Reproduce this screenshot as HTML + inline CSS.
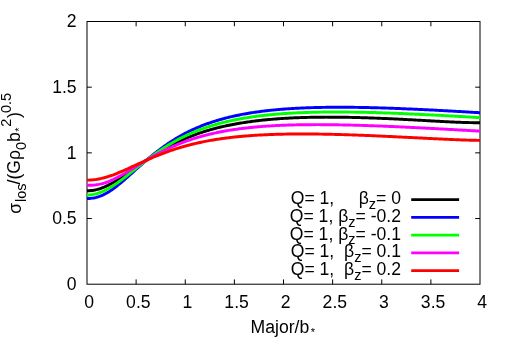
<!DOCTYPE html>
<html><head><meta charset="utf-8"><style>
html,body{margin:0;padding:0;background:#fff;}
svg{display:block;will-change:transform}
text{font-family:"Liberation Sans",sans-serif;font-size:17.6px;fill:#000}
</style></head><body>
<svg width="512" height="359" viewBox="0 0 512 359">
<rect width="512" height="359" fill="#fff"/>
<rect x="87.0" y="21.5" width="393.0" height="262.7" fill="none" stroke="#000" stroke-width="1"/>
<path d="M136.12,284.2 V279.4 M136.12,21.5 V26.3" stroke="#000" stroke-width="1"/>
<path d="M185.25,284.2 V279.4 M185.25,21.5 V26.3" stroke="#000" stroke-width="1"/>
<path d="M234.38,284.2 V279.4 M234.38,21.5 V26.3" stroke="#000" stroke-width="1"/>
<path d="M283.50,284.2 V279.4 M283.50,21.5 V26.3" stroke="#000" stroke-width="1"/>
<path d="M332.62,284.2 V279.4 M332.62,21.5 V26.3" stroke="#000" stroke-width="1"/>
<path d="M381.75,284.2 V279.4 M381.75,21.5 V26.3" stroke="#000" stroke-width="1"/>
<path d="M430.88,284.2 V279.4 M430.88,21.5 V26.3" stroke="#000" stroke-width="1"/>
<path d="M87.0,218.52 H91.8 M480.0,218.52 H475.2" stroke="#000" stroke-width="1"/>
<path d="M87.0,152.85 H91.8 M480.0,152.85 H475.2" stroke="#000" stroke-width="1"/>
<path d="M87.0,87.18 H91.8 M480.0,87.18 H475.2" stroke="#000" stroke-width="1"/>
<text transform="translate(89.20,307.65) scale(1,1.05)" text-anchor="middle" xml:space="preserve">0</text>
<text transform="translate(138.32,307.65) scale(1,1.05)" text-anchor="middle" xml:space="preserve">0.5</text>
<text transform="translate(187.45,307.65) scale(1,1.05)" text-anchor="middle" xml:space="preserve">1</text>
<text transform="translate(236.57,307.65) scale(1,1.05)" text-anchor="middle" xml:space="preserve">1.5</text>
<text transform="translate(285.70,307.65) scale(1,1.05)" text-anchor="middle" xml:space="preserve">2</text>
<text transform="translate(334.82,307.65) scale(1,1.05)" text-anchor="middle" xml:space="preserve">2.5</text>
<text transform="translate(383.95,307.65) scale(1,1.05)" text-anchor="middle" xml:space="preserve">3</text>
<text transform="translate(433.07,307.65) scale(1,1.05)" text-anchor="middle" xml:space="preserve">3.5</text>
<text transform="translate(482.20,307.65) scale(1,1.05)" text-anchor="middle" xml:space="preserve">4</text>
<text transform="translate(76.60,290.10) scale(1,1.05)" text-anchor="end" xml:space="preserve">0</text>
<text transform="translate(76.60,224.42) scale(1,1.05)" text-anchor="end" xml:space="preserve">0.5</text>
<text transform="translate(76.60,158.75) scale(1,1.05)" text-anchor="end" xml:space="preserve">1</text>
<text transform="translate(76.60,93.08) scale(1,1.05)" text-anchor="end" xml:space="preserve">1.5</text>
<text transform="translate(76.60,27.40) scale(1,1.05)" text-anchor="end" xml:space="preserve">2</text>
<text transform="translate(250.60,332.90) scale(1,1.05)" text-anchor="start" xml:space="preserve"><tspan>Major/b</tspan><tspan dy="2.86" dx="1.5" font-size="11">*</tspan></text>
<text transform="translate(19.90,213.80) rotate(-90) scale(1,1.05)" text-anchor="start" xml:space="preserve"><tspan dy="0.95">σ</tspan><tspan dy="4.48" dx="1.0" font-size="14.5">los</tspan><tspan dy="-5.43" dx="-1.0">/(Gρ</tspan><tspan dy="5.43" font-size="14.5">0</tspan><tspan dy="-5.43">b</tspan><tspan dy="2.76" dx="0.5" font-size="11">*</tspan><tspan dy="-11.33" dx="0.6" font-size="14.5">2</tspan><tspan dy="8.57" dx="0.6">)</tspan><tspan dy="-8.57" dx="-0.8" font-size="14.5">0.5</tspan></text>
<path d="M87.00,190.78 L88.31,190.75 L89.63,190.69 L90.94,190.57 L92.26,190.42 L93.57,190.22 L94.89,189.97 L96.20,189.68 L97.52,189.35 L98.83,188.98 L100.14,188.57 L101.46,188.12 L102.77,187.63 L104.09,187.11 L105.40,186.55 L106.72,185.96 L108.03,185.34 L109.34,184.68 L110.66,184.00 L111.97,183.29 L113.29,182.56 L114.60,181.80 L115.92,181.02 L117.23,180.22 L118.55,179.40 L119.86,178.56 L121.17,177.71 L122.49,176.84 L123.80,175.96 L125.12,175.07 L126.43,174.18 L127.75,173.27 L129.06,172.36 L130.37,171.44 L131.69,170.52 L133.00,169.60 L134.32,168.67 L135.63,167.75 L136.95,166.82 L138.26,165.90 L139.58,164.98 L140.89,164.07 L142.20,163.15 L143.52,162.25 L144.83,161.35 L146.15,160.46 L147.46,159.57 L148.78,158.69 L150.09,157.82 L151.40,156.96 L152.72,156.11 L154.03,155.27 L155.35,154.44 L156.66,153.62 L157.98,152.81 L159.29,152.01 L160.61,151.22 L161.92,150.44 L163.23,149.68 L164.55,148.93 L165.86,148.19 L167.18,147.46 L168.49,146.74 L169.81,146.03 L171.12,145.34 L172.43,144.66 L173.75,143.99 L175.06,143.33 L176.38,142.68 L177.69,142.05 L179.01,141.42 L180.32,140.81 L181.64,140.21 L182.95,139.63 L184.26,139.05 L185.58,138.48 L186.89,137.93 L188.21,137.39 L189.52,136.86 L190.84,136.33 L192.15,135.82 L193.46,135.32 L194.78,134.83 L196.09,134.35 L197.41,133.88 L198.72,133.42 L200.04,132.97 L201.35,132.53 L202.67,132.10 L203.98,131.68 L205.29,131.27 L206.61,130.86 L207.92,130.47 L209.24,130.08 L210.55,129.70 L211.87,129.33 L213.18,128.97 L214.49,128.62 L215.81,128.27 L217.12,127.94 L218.44,127.61 L219.75,127.29 L221.07,126.97 L222.38,126.66 L223.70,126.36 L225.01,126.07 L226.32,125.78 L227.64,125.50 L228.95,125.23 L230.27,124.96 L231.58,124.70 L232.90,124.45 L234.21,124.20 L235.53,123.96 L236.84,123.72 L238.15,123.49 L239.47,123.27 L240.78,123.05 L242.10,122.84 L243.41,122.63 L244.73,122.43 L246.04,122.23 L247.35,122.04 L248.67,121.85 L249.98,121.67 L251.30,121.49 L252.61,121.32 L253.93,121.15 L255.24,120.98 L256.56,120.82 L257.87,120.67 L259.18,120.52 L260.50,120.37 L261.81,120.23 L263.13,120.09 L264.44,119.96 L265.76,119.83 L267.07,119.70 L268.38,119.58 L269.70,119.46 L271.01,119.35 L272.33,119.23 L273.64,119.13 L274.96,119.02 L276.27,118.92 L277.59,118.82 L278.90,118.73 L280.21,118.64 L281.53,118.55 L282.84,118.47 L284.16,118.38 L285.47,118.31 L286.79,118.23 L288.10,118.16 L289.41,118.09 L290.73,118.02 L292.04,117.96 L293.36,117.90 L294.67,117.84 L295.99,117.78 L297.30,117.73 L298.62,117.68 L299.93,117.63 L301.24,117.59 L302.56,117.54 L303.87,117.50 L305.19,117.46 L306.50,117.43 L307.82,117.39 L309.13,117.36 L310.44,117.33 L311.76,117.31 L313.07,117.28 L314.39,117.26 L315.70,117.24 L317.02,117.22 L318.33,117.21 L319.65,117.19 L320.96,117.18 L322.27,117.17 L323.59,117.16 L324.90,117.16 L326.22,117.15 L327.53,117.15 L328.85,117.15 L330.16,117.15 L331.47,117.15 L332.79,117.16 L334.10,117.16 L335.42,117.17 L336.73,117.18 L338.05,117.19 L339.36,117.21 L340.68,117.22 L341.99,117.24 L343.30,117.26 L344.62,117.28 L345.93,117.30 L347.25,117.32 L348.56,117.34 L349.88,117.37 L351.19,117.39 L352.51,117.42 L353.82,117.45 L355.13,117.48 L356.45,117.52 L357.76,117.55 L359.08,117.58 L360.39,117.62 L361.71,117.66 L363.02,117.70 L364.33,117.74 L365.65,117.78 L366.96,117.82 L368.28,117.87 L369.59,117.91 L370.91,117.96 L372.22,118.00 L373.54,118.05 L374.85,118.10 L376.16,118.15 L377.48,118.20 L378.79,118.25 L380.11,118.31 L381.42,118.36 L382.74,118.42 L384.05,118.47 L385.36,118.53 L386.68,118.59 L387.99,118.65 L389.31,118.71 L390.62,118.77 L391.94,118.83 L393.25,118.89 L394.57,118.95 L395.88,119.02 L397.19,119.08 L398.51,119.15 L399.82,119.21 L401.14,119.28 L402.45,119.34 L403.77,119.41 L405.08,119.48 L406.39,119.55 L407.71,119.62 L409.02,119.69 L410.34,119.76 L411.65,119.83 L412.97,119.90 L414.28,119.97 L415.60,120.04 L416.91,120.11 L418.22,120.18 L419.54,120.26 L420.85,120.33 L422.17,120.40 L423.48,120.47 L424.80,120.55 L426.11,120.62 L427.42,120.69 L428.74,120.76 L430.05,120.84 L431.37,120.91 L432.68,120.98 L434.00,121.05 L435.31,121.12 L436.63,121.20 L437.94,121.27 L439.25,121.34 L440.57,121.41 L441.88,121.48 L443.20,121.54 L444.51,121.61 L445.83,121.68 L447.14,121.74 L448.45,121.81 L449.77,121.87 L451.08,121.93 L452.40,121.99 L453.71,122.05 L455.03,122.11 L456.34,122.17 L457.66,122.22 L458.97,122.27 L460.28,122.32 L461.60,122.37 L462.91,122.42 L464.23,122.46 L465.54,122.50 L466.86,122.54 L468.17,122.57 L469.48,122.60 L470.80,122.63 L472.11,122.65 L473.43,122.67 L474.74,122.68 L476.06,122.69 L477.37,122.70 L478.69,122.70 L480.00,122.69" fill="none" stroke="#000" stroke-width="2.95" stroke-linejoin="round"/>
<path d="M87.00,198.51 L88.31,198.49 L89.63,198.43 L90.94,198.32 L92.26,198.16 L93.57,197.96 L94.89,197.70 L96.20,197.40 L97.52,197.04 L98.83,196.62 L100.14,196.16 L101.46,195.63 L102.77,195.06 L104.09,194.43 L105.40,193.75 L106.72,193.03 L108.03,192.25 L109.34,191.44 L110.66,190.58 L111.97,189.68 L113.29,188.75 L114.60,187.78 L115.92,186.78 L117.23,185.76 L118.55,184.71 L119.86,183.63 L121.17,182.53 L122.49,181.42 L123.80,180.29 L125.12,179.15 L126.43,177.99 L127.75,176.82 L129.06,175.65 L130.37,174.47 L131.69,173.29 L133.00,172.11 L134.32,170.92 L135.63,169.74 L136.95,168.56 L138.26,167.38 L139.58,166.21 L140.89,165.04 L142.20,163.88 L143.52,162.73 L144.83,161.59 L146.15,160.46 L147.46,159.34 L148.78,158.23 L150.09,157.13 L151.40,156.05 L152.72,154.98 L154.03,153.92 L155.35,152.88 L156.66,151.85 L157.98,150.84 L159.29,149.84 L160.61,148.86 L161.92,147.89 L163.23,146.94 L164.55,146.01 L165.86,145.09 L167.18,144.18 L168.49,143.29 L169.81,142.42 L171.12,141.57 L172.43,140.73 L173.75,139.90 L175.06,139.10 L176.38,138.30 L177.69,137.53 L179.01,136.76 L180.32,136.02 L181.64,135.28 L182.95,134.57 L184.26,133.86 L185.58,133.18 L186.89,132.50 L188.21,131.84 L189.52,131.20 L190.84,130.57 L192.15,129.95 L193.46,129.34 L194.78,128.75 L196.09,128.17 L197.41,127.60 L198.72,127.05 L200.04,126.51 L201.35,125.98 L202.67,125.46 L203.98,124.95 L205.29,124.46 L206.61,123.97 L207.92,123.50 L209.24,123.04 L210.55,122.59 L211.87,122.15 L213.18,121.71 L214.49,121.29 L215.81,120.88 L217.12,120.48 L218.44,120.09 L219.75,119.70 L221.07,119.33 L222.38,118.96 L223.70,118.60 L225.01,118.26 L226.32,117.91 L227.64,117.58 L228.95,117.26 L230.27,116.94 L231.58,116.63 L232.90,116.33 L234.21,116.04 L235.53,115.75 L236.84,115.47 L238.15,115.20 L239.47,114.93 L240.78,114.67 L242.10,114.42 L243.41,114.17 L244.73,113.93 L246.04,113.70 L247.35,113.47 L248.67,113.25 L249.98,113.03 L251.30,112.82 L252.61,112.61 L253.93,112.41 L255.24,112.22 L256.56,112.03 L257.87,111.84 L259.18,111.67 L260.50,111.49 L261.81,111.32 L263.13,111.16 L264.44,110.99 L265.76,110.84 L267.07,110.69 L268.38,110.54 L269.70,110.40 L271.01,110.26 L272.33,110.12 L273.64,109.99 L274.96,109.87 L276.27,109.74 L277.59,109.62 L278.90,109.51 L280.21,109.40 L281.53,109.29 L282.84,109.18 L284.16,109.08 L285.47,108.99 L286.79,108.89 L288.10,108.80 L289.41,108.71 L290.73,108.63 L292.04,108.55 L293.36,108.47 L294.67,108.39 L295.99,108.32 L297.30,108.25 L298.62,108.18 L299.93,108.12 L301.24,108.06 L302.56,108.00 L303.87,107.94 L305.19,107.89 L306.50,107.83 L307.82,107.79 L309.13,107.74 L310.44,107.70 L311.76,107.65 L313.07,107.61 L314.39,107.58 L315.70,107.54 L317.02,107.51 L318.33,107.48 L319.65,107.45 L320.96,107.42 L322.27,107.40 L323.59,107.38 L324.90,107.36 L326.22,107.34 L327.53,107.32 L328.85,107.31 L330.16,107.29 L331.47,107.28 L332.79,107.27 L334.10,107.27 L335.42,107.26 L336.73,107.26 L338.05,107.25 L339.36,107.25 L340.68,107.25 L341.99,107.26 L343.30,107.26 L344.62,107.26 L345.93,107.27 L347.25,107.28 L348.56,107.29 L349.88,107.30 L351.19,107.31 L352.51,107.33 L353.82,107.34 L355.13,107.36 L356.45,107.38 L357.76,107.40 L359.08,107.42 L360.39,107.44 L361.71,107.46 L363.02,107.49 L364.33,107.51 L365.65,107.54 L366.96,107.57 L368.28,107.59 L369.59,107.62 L370.91,107.66 L372.22,107.69 L373.54,107.72 L374.85,107.76 L376.16,107.79 L377.48,107.83 L378.79,107.86 L380.11,107.90 L381.42,107.94 L382.74,107.98 L384.05,108.02 L385.36,108.07 L386.68,108.11 L387.99,108.15 L389.31,108.20 L390.62,108.24 L391.94,108.29 L393.25,108.34 L394.57,108.38 L395.88,108.43 L397.19,108.48 L398.51,108.53 L399.82,108.58 L401.14,108.64 L402.45,108.69 L403.77,108.74 L405.08,108.80 L406.39,108.85 L407.71,108.91 L409.02,108.96 L410.34,109.02 L411.65,109.08 L412.97,109.13 L414.28,109.19 L415.60,109.25 L416.91,109.31 L418.22,109.37 L419.54,109.43 L420.85,109.50 L422.17,109.56 L423.48,109.62 L424.80,109.68 L426.11,109.75 L427.42,109.81 L428.74,109.88 L430.05,109.94 L431.37,110.01 L432.68,110.08 L434.00,110.14 L435.31,110.21 L436.63,110.28 L437.94,110.35 L439.25,110.42 L440.57,110.49 L441.88,110.56 L443.20,110.63 L444.51,110.70 L445.83,110.77 L447.14,110.84 L448.45,110.91 L449.77,110.99 L451.08,111.06 L452.40,111.13 L453.71,111.21 L455.03,111.28 L456.34,111.35 L457.66,111.43 L458.97,111.50 L460.28,111.58 L461.60,111.65 L462.91,111.73 L464.23,111.81 L465.54,111.88 L466.86,111.96 L468.17,112.04 L469.48,112.12 L470.80,112.19 L472.11,112.27 L473.43,112.35 L474.74,112.43 L476.06,112.51 L477.37,112.59 L478.69,112.67 L480.00,112.75" fill="none" stroke="#0000ff" stroke-width="2.95" stroke-linejoin="round"/>
<path d="M87.00,195.04 L88.31,195.01 L89.63,194.93 L90.94,194.81 L92.26,194.63 L93.57,194.39 L94.89,194.11 L96.20,193.78 L97.52,193.40 L98.83,192.98 L100.14,192.51 L101.46,191.99 L102.77,191.44 L104.09,190.84 L105.40,190.20 L106.72,189.52 L108.03,188.80 L109.34,188.06 L110.66,187.28 L111.97,186.46 L113.29,185.62 L114.60,184.76 L115.92,183.87 L117.23,182.95 L118.55,182.02 L119.86,181.06 L121.17,180.09 L122.49,179.10 L123.80,178.10 L125.12,177.09 L126.43,176.07 L127.75,175.04 L129.06,174.00 L130.37,172.95 L131.69,171.91 L133.00,170.86 L134.32,169.81 L135.63,168.76 L136.95,167.71 L138.26,166.66 L139.58,165.62 L140.89,164.59 L142.20,163.55 L143.52,162.53 L144.83,161.51 L146.15,160.50 L147.46,159.50 L148.78,158.51 L150.09,157.53 L151.40,156.55 L152.72,155.59 L154.03,154.65 L155.35,153.71 L156.66,152.78 L157.98,151.87 L159.29,150.97 L160.61,150.09 L161.92,149.21 L163.23,148.35 L164.55,147.51 L165.86,146.68 L167.18,145.86 L168.49,145.05 L169.81,144.26 L171.12,143.48 L172.43,142.72 L173.75,141.97 L175.06,141.23 L176.38,140.51 L177.69,139.80 L179.01,139.10 L180.32,138.42 L181.64,137.75 L182.95,137.10 L184.26,136.45 L185.58,135.82 L186.89,135.21 L188.21,134.60 L189.52,134.01 L190.84,133.43 L192.15,132.86 L193.46,132.30 L194.78,131.76 L196.09,131.23 L197.41,130.70 L198.72,130.19 L200.04,129.69 L201.35,129.20 L202.67,128.73 L203.98,128.26 L205.29,127.80 L206.61,127.35 L207.92,126.92 L209.24,126.49 L210.55,126.07 L211.87,125.66 L213.18,125.26 L214.49,124.87 L215.81,124.49 L217.12,124.12 L218.44,123.76 L219.75,123.40 L221.07,123.05 L222.38,122.72 L223.70,122.38 L225.01,122.06 L226.32,121.75 L227.64,121.44 L228.95,121.14 L230.27,120.84 L231.58,120.56 L232.90,120.28 L234.21,120.01 L235.53,119.74 L236.84,119.48 L238.15,119.23 L239.47,118.98 L240.78,118.74 L242.10,118.51 L243.41,118.28 L244.73,118.05 L246.04,117.84 L247.35,117.63 L248.67,117.42 L249.98,117.22 L251.30,117.02 L252.61,116.83 L253.93,116.65 L255.24,116.47 L256.56,116.29 L257.87,116.12 L259.18,115.96 L260.50,115.80 L261.81,115.64 L263.13,115.49 L264.44,115.34 L265.76,115.20 L267.07,115.06 L268.38,114.92 L269.70,114.79 L271.01,114.66 L272.33,114.54 L273.64,114.42 L274.96,114.30 L276.27,114.19 L277.59,114.08 L278.90,113.98 L280.21,113.87 L281.53,113.78 L282.84,113.68 L284.16,113.59 L285.47,113.50 L286.79,113.41 L288.10,113.33 L289.41,113.25 L290.73,113.18 L292.04,113.10 L293.36,113.03 L294.67,112.96 L295.99,112.90 L297.30,112.84 L298.62,112.78 L299.93,112.72 L301.24,112.67 L302.56,112.61 L303.87,112.56 L305.19,112.52 L306.50,112.47 L307.82,112.43 L309.13,112.39 L310.44,112.35 L311.76,112.32 L313.07,112.28 L314.39,112.25 L315.70,112.22 L317.02,112.20 L318.33,112.17 L319.65,112.15 L320.96,112.13 L322.27,112.11 L323.59,112.09 L324.90,112.07 L326.22,112.06 L327.53,112.05 L328.85,112.04 L330.16,112.03 L331.47,112.02 L332.79,112.02 L334.10,112.02 L335.42,112.02 L336.73,112.02 L338.05,112.02 L339.36,112.02 L340.68,112.02 L341.99,112.03 L343.30,112.04 L344.62,112.05 L345.93,112.06 L347.25,112.07 L348.56,112.08 L349.88,112.10 L351.19,112.11 L352.51,112.13 L353.82,112.15 L355.13,112.17 L356.45,112.19 L357.76,112.21 L359.08,112.23 L360.39,112.26 L361.71,112.28 L363.02,112.31 L364.33,112.34 L365.65,112.37 L366.96,112.39 L368.28,112.42 L369.59,112.45 L370.91,112.48 L372.22,112.50 L373.54,112.50 L374.85,112.12 L376.16,112.75 L377.48,112.73 L378.79,112.76 L380.11,112.79 L381.42,112.83 L382.74,112.87 L384.05,112.91 L385.36,112.95 L386.68,112.99 L387.99,113.04 L389.31,113.08 L390.62,113.13 L391.94,113.18 L393.25,113.23 L394.57,113.27 L395.88,113.32 L397.19,113.38 L398.51,113.43 L399.82,113.48 L401.14,113.53 L402.45,113.59 L403.77,113.64 L405.08,113.70 L406.39,113.75 L407.71,113.81 L409.02,113.86 L410.34,113.92 L411.65,113.98 L412.97,114.04 L414.28,114.10 L415.60,114.16 L416.91,114.22 L418.22,114.28 L419.54,114.34 L420.85,114.41 L422.17,114.47 L423.48,114.53 L424.80,114.60 L426.11,114.66 L427.42,114.73 L428.74,114.79 L430.05,114.86 L431.37,114.92 L432.68,114.99 L434.00,115.06 L435.31,115.13 L436.63,115.19 L437.94,115.26 L439.25,115.33 L440.57,115.40 L441.88,115.47 L443.20,115.54 L444.51,115.61 L445.83,115.68 L447.14,115.76 L448.45,115.83 L449.77,115.90 L451.08,115.97 L452.40,116.05 L453.71,116.12 L455.03,116.19 L456.34,116.27 L457.66,116.34 L458.97,116.42 L460.28,116.49 L461.60,116.57 L462.91,116.64 L464.23,116.72 L465.54,116.79 L466.86,116.87 L468.17,116.95 L469.48,117.02 L470.80,117.10 L472.11,117.18 L473.43,117.26 L474.74,117.34 L476.06,117.41 L477.37,117.49 L478.69,117.57 L480.00,117.65" fill="none" stroke="#00ff00" stroke-width="2.95" stroke-linejoin="round"/>
<path d="M87.00,185.35 L88.31,185.34 L89.63,185.32 L90.94,185.27 L92.26,185.20 L93.57,185.11 L94.89,184.98 L96.20,184.83 L97.52,184.64 L98.83,184.41 L100.14,184.15 L101.46,183.84 L102.77,183.50 L104.09,183.12 L105.40,182.71 L106.72,182.25 L108.03,181.77 L109.34,181.25 L110.66,180.70 L111.97,180.12 L113.29,179.52 L114.60,178.89 L115.92,178.23 L117.23,177.56 L118.55,176.86 L119.86,176.15 L121.17,175.42 L122.49,174.67 L123.80,173.92 L125.12,173.15 L126.43,172.37 L127.75,171.59 L129.06,170.80 L130.37,170.00 L131.69,169.20 L133.00,168.39 L134.32,167.59 L135.63,166.78 L136.95,165.97 L138.26,165.17 L139.58,164.36 L140.89,163.56 L142.20,162.77 L143.52,161.98 L144.83,161.19 L146.15,160.41 L147.46,159.64 L148.78,158.87 L150.09,158.11 L151.40,157.36 L152.72,156.62 L154.03,155.89 L155.35,155.16 L156.66,154.45 L157.98,153.75 L159.29,153.05 L160.61,152.37 L161.92,151.69 L163.23,151.03 L164.55,150.38 L165.86,149.74 L167.18,149.10 L168.49,148.48 L169.81,147.87 L171.12,147.28 L172.43,146.69 L173.75,146.11 L175.06,145.55 L176.38,144.99 L177.69,144.45 L179.01,143.91 L180.32,143.39 L181.64,142.88 L182.95,142.37 L184.26,141.88 L185.58,141.40 L186.89,140.93 L188.21,140.47 L189.52,140.01 L190.84,139.57 L192.15,139.14 L193.46,138.72 L194.78,138.30 L196.09,137.90 L197.41,137.50 L198.72,137.11 L200.04,136.74 L201.35,136.37 L202.67,136.01 L203.98,135.65 L205.29,135.31 L206.61,134.97 L207.92,134.65 L209.24,134.33 L210.55,134.01 L211.87,133.71 L213.18,133.41 L214.49,133.12 L215.81,132.84 L217.12,132.56 L218.44,132.29 L219.75,132.03 L221.07,131.77 L222.38,131.52 L223.70,131.28 L225.01,131.04 L226.32,130.81 L227.64,130.59 L228.95,130.37 L230.27,130.15 L231.58,129.95 L232.90,129.74 L234.21,129.55 L235.53,129.36 L236.84,129.17 L238.15,128.99 L239.47,128.81 L240.78,128.64 L242.10,128.48 L243.41,128.31 L244.73,128.16 L246.04,128.00 L247.35,127.86 L248.67,127.71 L249.98,127.57 L251.30,127.44 L252.61,127.31 L253.93,127.18 L255.24,127.06 L256.56,126.94 L257.87,126.83 L259.18,126.72 L260.50,126.61 L261.81,126.50 L263.13,126.40 L264.44,126.31 L265.76,126.21 L267.07,126.12 L268.38,126.04 L269.70,125.95 L271.01,125.87 L272.33,125.80 L273.64,125.72 L274.96,125.65 L276.27,125.58 L277.59,125.52 L278.90,125.45 L280.21,125.39 L281.53,125.34 L282.84,125.28 L284.16,125.23 L285.47,125.18 L286.79,125.13 L288.10,125.09 L289.41,125.04 L290.73,125.00 L292.04,124.97 L293.36,124.93 L294.67,124.90 L295.99,124.87 L297.30,124.84 L298.62,124.81 L299.93,124.79 L301.24,124.77 L302.56,124.75 L303.87,124.73 L305.19,124.71 L306.50,124.70 L307.82,124.68 L309.13,124.67 L310.44,124.66 L311.76,124.66 L313.07,124.65 L314.39,124.65 L315.70,124.64 L317.02,124.64 L318.33,124.64 L319.65,124.65 L320.96,124.65 L322.27,124.65 L323.59,124.66 L324.90,124.67 L326.22,124.68 L327.53,124.69 L328.85,124.70 L330.16,124.72 L331.47,124.73 L332.79,124.75 L334.10,124.77 L335.42,124.79 L336.73,124.81 L338.05,124.83 L339.36,124.85 L340.68,124.88 L341.99,124.90 L343.30,124.93 L344.62,124.95 L345.93,124.98 L347.25,125.01 L348.56,125.04 L349.88,125.07 L351.19,125.11 L352.51,125.14 L353.82,125.18 L355.13,125.21 L356.45,125.25 L357.76,125.29 L359.08,125.32 L360.39,125.36 L361.71,125.40 L363.02,125.44 L364.33,125.49 L365.65,125.53 L366.96,125.57 L368.28,125.62 L369.59,125.66 L370.91,125.71 L372.22,125.75 L373.54,125.80 L374.85,125.85 L376.16,125.90 L377.48,125.95 L378.79,126.00 L380.11,126.05 L381.42,126.10 L382.74,126.15 L384.05,126.20 L385.36,126.26 L386.68,126.31 L387.99,126.37 L389.31,126.42 L390.62,126.48 L391.94,126.53 L393.25,126.59 L394.57,126.65 L395.88,126.71 L397.19,126.76 L398.51,126.82 L399.82,126.88 L401.14,126.94 L402.45,127.00 L403.77,127.06 L405.08,127.12 L406.39,127.19 L407.71,127.25 L409.02,127.31 L410.34,127.37 L411.65,127.44 L412.97,127.50 L414.28,127.57 L415.60,127.63 L416.91,127.70 L418.22,127.76 L419.54,127.83 L420.85,127.89 L422.17,127.96 L423.48,128.03 L424.80,128.09 L426.11,128.16 L427.42,128.23 L428.74,128.30 L430.05,128.37 L431.37,128.44 L432.68,128.51 L434.00,128.57 L435.31,128.64 L436.63,128.71 L437.94,128.78 L439.25,128.85 L440.57,128.93 L441.88,129.00 L443.20,129.07 L444.51,129.14 L445.83,129.21 L447.14,129.28 L448.45,129.35 L449.77,129.43 L451.08,129.50 L452.40,129.57 L453.71,129.65 L455.03,129.72 L456.34,129.79 L457.66,129.87 L458.97,129.94 L460.28,130.01 L461.60,130.09 L462.91,130.16 L464.23,130.23 L465.54,130.31 L466.86,130.38 L468.17,130.46 L469.48,130.53 L470.80,130.61 L472.11,130.68 L473.43,130.76 L474.74,130.83 L476.06,130.91 L477.37,130.98 L478.69,131.06 L480.00,131.14" fill="none" stroke="#ff00ff" stroke-width="2.95" stroke-linejoin="round"/>
<path d="M87.00,180.12 L88.31,180.11 L89.63,180.07 L90.94,179.99 L92.26,179.89 L93.57,179.76 L94.89,179.60 L96.20,179.42 L97.52,179.20 L98.83,178.96 L100.14,178.70 L101.46,178.41 L102.77,178.09 L104.09,177.75 L105.40,177.39 L106.72,177.01 L108.03,176.60 L109.34,176.18 L110.66,175.73 L111.97,175.27 L113.29,174.80 L114.60,174.30 L115.92,173.80 L117.23,173.28 L118.55,172.74 L119.86,172.20 L121.17,171.64 L122.49,171.08 L123.80,170.51 L125.12,169.93 L126.43,169.34 L127.75,168.75 L129.06,168.15 L130.37,167.55 L131.69,166.95 L133.00,166.35 L134.32,165.74 L135.63,165.14 L136.95,164.53 L138.26,163.93 L139.58,163.33 L140.89,162.73 L142.20,162.13 L143.52,161.54 L144.83,160.95 L146.15,160.36 L147.46,159.78 L148.78,159.21 L150.09,158.64 L151.40,158.07 L152.72,157.51 L154.03,156.96 L155.35,156.42 L156.66,155.88 L157.98,155.35 L159.29,154.82 L160.61,154.31 L161.92,153.80 L163.23,153.30 L164.55,152.80 L165.86,152.32 L167.18,151.84 L168.49,151.37 L169.81,150.91 L171.12,150.46 L172.43,150.01 L173.75,149.57 L175.06,149.15 L176.38,148.72 L177.69,148.31 L179.01,147.91 L180.32,147.51 L181.64,147.12 L182.95,146.74 L184.26,146.37 L185.58,146.00 L186.89,145.64 L188.21,145.29 L189.52,144.95 L190.84,144.61 L192.15,144.29 L193.46,143.96 L194.78,143.65 L196.09,143.34 L197.41,143.04 L198.72,142.75 L200.04,142.47 L201.35,142.19 L202.67,141.91 L203.98,141.65 L205.29,141.39 L206.61,141.13 L207.92,140.88 L209.24,140.64 L210.55,140.41 L211.87,140.18 L213.18,139.95 L214.49,139.74 L215.81,139.52 L217.12,139.32 L218.44,139.11 L219.75,138.92 L221.07,138.73 L222.38,138.54 L223.70,138.36 L225.01,138.18 L226.32,138.01 L227.64,137.84 L228.95,137.68 L230.27,137.52 L231.58,137.37 L232.90,137.22 L234.21,137.08 L235.53,136.94 L236.84,136.80 L238.15,136.67 L239.47,136.54 L240.78,136.42 L242.10,136.30 L243.41,136.18 L244.73,136.07 L246.04,135.96 L247.35,135.86 L248.67,135.76 L249.98,135.66 L251.30,135.56 L252.61,135.47 L253.93,135.38 L255.24,135.30 L256.56,135.22 L257.87,135.14 L259.18,135.06 L260.50,134.99 L261.81,134.92 L263.13,134.85 L264.44,134.79 L265.76,134.73 L267.07,134.67 L268.38,134.62 L269.70,134.56 L271.01,134.51 L272.33,134.46 L273.64,134.42 L274.96,134.38 L276.27,134.34 L277.59,134.30 L278.90,134.26 L280.21,134.23 L281.53,134.20 L282.84,134.17 L284.16,134.14 L285.47,134.12 L286.79,134.09 L288.10,134.07 L289.41,134.05 L290.73,134.04 L292.04,134.02 L293.36,134.01 L294.67,134.00 L295.99,133.99 L297.30,133.98 L298.62,133.98 L299.93,133.97 L301.24,133.97 L302.56,133.97 L303.87,133.97 L305.19,133.97 L306.50,133.98 L307.82,133.98 L309.13,133.99 L310.44,134.00 L311.76,134.01 L313.07,134.02 L314.39,134.03 L315.70,134.05 L317.02,134.07 L318.33,134.08 L319.65,134.10 L320.96,134.12 L322.27,134.14 L323.59,134.17 L324.90,134.19 L326.22,134.21 L327.53,134.24 L328.85,134.27 L330.16,134.30 L331.47,134.33 L332.79,134.36 L334.10,134.39 L335.42,134.42 L336.73,134.46 L338.05,134.49 L339.36,134.53 L340.68,134.56 L341.99,134.60 L343.30,134.64 L344.62,134.68 L345.93,134.72 L347.25,134.76 L348.56,134.80 L349.88,134.85 L351.19,134.89 L352.51,134.94 L353.82,134.98 L355.13,135.03 L356.45,135.08 L357.76,135.13 L359.08,135.17 L360.39,135.22 L361.71,135.27 L363.02,135.33 L364.33,135.38 L365.65,135.43 L366.96,135.48 L368.28,135.54 L369.59,135.59 L370.91,135.65 L372.22,135.70 L373.54,135.76 L374.85,135.81 L376.16,135.87 L377.48,135.93 L378.79,135.99 L380.11,136.05 L381.42,136.10 L382.74,136.16 L384.05,136.22 L385.36,136.28 L386.68,136.35 L387.99,136.41 L389.31,136.47 L390.62,136.53 L391.94,136.59 L393.25,136.66 L394.57,136.72 L395.88,136.78 L397.19,136.85 L398.51,136.91 L399.82,136.97 L401.14,137.04 L402.45,137.10 L403.77,137.17 L405.08,137.23 L406.39,137.30 L407.71,137.37 L409.02,137.43 L410.34,137.50 L411.65,137.56 L412.97,137.63 L414.28,137.69 L415.60,137.76 L416.91,137.83 L418.22,137.89 L419.54,137.96 L420.85,138.03 L422.17,138.09 L423.48,138.16 L424.80,138.22 L426.11,138.29 L427.42,138.36 L428.74,138.42 L430.05,138.49 L431.37,138.55 L432.68,138.62 L434.00,138.68 L435.31,138.75 L436.63,138.81 L437.94,138.87 L439.25,138.94 L440.57,139.00 L441.88,139.06 L443.20,139.12 L444.51,139.19 L445.83,139.25 L447.14,139.31 L448.45,139.37 L449.77,139.42 L451.08,139.48 L452.40,139.54 L453.71,139.60 L455.03,139.65 L456.34,139.71 L457.66,139.76 L458.97,139.81 L460.28,139.86 L461.60,139.91 L462.91,139.96 L464.23,140.01 L465.54,140.05 L466.86,140.10 L468.17,140.14 L469.48,140.18 L470.80,140.22 L472.11,140.25 L473.43,140.29 L474.74,140.32 L476.06,140.34 L477.37,140.37 L478.69,140.39 L480.00,140.41" fill="none" stroke="#ff0000" stroke-width="2.95" stroke-linejoin="round"/>
<text transform="translate(401.00,204.00) scale(1,1.05)" text-anchor="end" xml:space="preserve"><tspan>Q= 1,     β</tspan><tspan dy="4.48" font-size="14.5">z</tspan><tspan dy="-4.48">= 0</tspan></text>
<path d="M411.2,199.6 H459.1" stroke="#000" stroke-width="2.9"/>
<text transform="translate(401.00,221.80) scale(1,1.05)" text-anchor="end" xml:space="preserve"><tspan>Q= 1, β</tspan><tspan dy="4.48" font-size="14.5">z</tspan><tspan dy="-4.48">= -0.2</tspan></text>
<path d="M411.2,217.4 H459.1" stroke="#0000ff" stroke-width="2.9"/>
<text transform="translate(401.00,239.50) scale(1,1.05)" text-anchor="end" xml:space="preserve"><tspan>Q= 1, β</tspan><tspan dy="4.48" font-size="14.5">z</tspan><tspan dy="-4.48">= -0.1</tspan></text>
<path d="M411.2,235.1 H459.1" stroke="#00ff00" stroke-width="2.9"/>
<text transform="translate(401.00,257.25) scale(1,1.05)" text-anchor="end" xml:space="preserve"><tspan>Q= 1,  β</tspan><tspan dy="4.48" font-size="14.5">z</tspan><tspan dy="-4.48">= 0.1</tspan></text>
<path d="M411.2,252.85 H459.1" stroke="#ff00ff" stroke-width="2.9"/>
<text transform="translate(401.00,275.00) scale(1,1.05)" text-anchor="end" xml:space="preserve"><tspan>Q= 1,  β</tspan><tspan dy="4.48" font-size="14.5">z</tspan><tspan dy="-4.48">= 0.2</tspan></text>
<path d="M411.2,270.6 H459.1" stroke="#ff0000" stroke-width="2.9"/>
</svg>
</body></html>
